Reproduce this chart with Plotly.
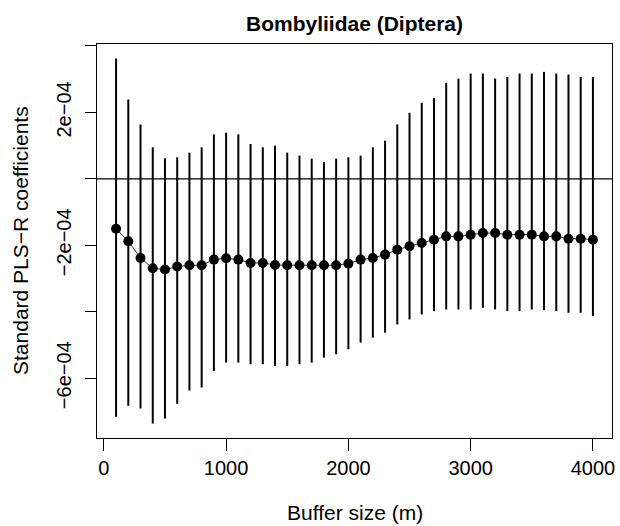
import plotly.graph_objects as go

buffer_m = [100, 200, 300, 400, 500, 600, 700, 800, 900, 1000,
            1100, 1200, 1300, 1400, 1500, 1600, 1700, 1800, 1900, 2000,
            2100, 2200, 2300, 2400, 2500, 2600, 2700, 2800, 2900, 3000,
            3100, 3200, 3300, 3400, 3500, 3600, 3700, 3800, 3900, 4000]

coef_e4 = [-1.50, -1.88, -2.38, -2.69, -2.73, -2.64, -2.60, -2.60, -2.43, -2.39,
           -2.43, -2.53, -2.53, -2.59, -2.60, -2.60, -2.60, -2.60, -2.60, -2.55,
           -2.43, -2.38, -2.28, -2.13, -2.03, -1.93, -1.83, -1.73, -1.73, -1.68,
           -1.63, -1.63, -1.68, -1.68, -1.68, -1.73, -1.73, -1.80, -1.80, -1.83]

upper_e4 = [3.62, 2.39, 1.64, 0.95, 0.62, 0.65, 0.79, 0.95, 1.34, 1.39,
            1.34, 1.05, 0.95, 1.00, 0.79, 0.70, 0.61, 0.51, 0.61, 0.65,
            0.70, 0.95, 1.15, 1.64, 1.99, 2.29, 2.44, 2.89, 3.02, 3.17,
            3.17, 3.02, 3.07, 3.17, 3.17, 3.22, 3.17, 3.14, 3.07, 3.07]

lower_e4 = [-7.16, -6.83, -6.91, -7.36, -7.21, -6.77, -6.37, -6.28, -5.78, -5.53,
            -5.53, -5.58, -5.58, -5.63, -5.63, -5.58, -5.53, -5.38, -5.28, -5.13,
            -4.93, -4.78, -4.63, -4.38, -4.23, -4.08, -3.98, -3.93, -3.93, -3.93,
            -3.88, -3.93, -3.98, -3.98, -3.93, -3.95, -3.98, -4.03, -4.03, -4.13]

x_tickvals = [0, 1000, 2000, 3000, 4000]
y_tickvals = [-6e-4, -4e-4, -2e-4, 0, 2e-4, 4e-4]
y_ticktext = ["\u22126e\u221204", "", "\u22122e\u221204", "", "2e\u221204", ""]

scale = 1e-4
coef = [v * scale for v in coef_e4]
err_plus = [(u - c) * scale for u, c in zip(upper_e4, coef_e4)]
err_minus = [(c - l) * scale for c, l in zip(coef_e4, lower_e4)]

FONT = "Liberation Sans, Arial, sans-serif"

fig = go.Figure()
fig.add_trace(go.Scatter(
    x=buffer_m, y=coef, mode="lines+markers",
    line=dict(color="#333333", width=1),
    marker=dict(color="black", size=10, line=dict(width=0)),
    error_y=dict(type="data", symmetric=False, array=err_plus, arrayminus=err_minus,
                 width=0, thickness=2, color="black"),
    showlegend=False,
))

fig.add_shape(type="line", xref="paper", yref="y", x0=0, x1=1, y0=0, y1=0,
              line=dict(color="black", width=1.3))

fig.update_layout(
    width=620, height=526,
    margin=dict(l=97, r=8, t=44, b=88, autoexpand=False),
    paper_bgcolor="white", plot_bgcolor="white",
    font=dict(family=FONT, size=20, color="black"),
    title=dict(text="<b>Bombyliidae (Diptera)</b>", x=(97 + 612) / 2 / 620, xanchor="center",
               y=1 - 24 / 526, yanchor="middle", font=dict(size=21, family=FONT)),
    xaxis=dict(range=[-56, 4156], tickvals=x_tickvals, ticktext=[str(v) for v in x_tickvals],
               showline=True, mirror=True, linecolor="black", linewidth=1,
               ticks="outside", ticklen=12, tickwidth=1, tickcolor="black",
               showgrid=False, zeroline=False, tickfont=dict(size=20), automargin=False),
    yaxis=dict(range=[-7.80e-4, 4.06e-4], tickvals=y_tickvals, ticktext=y_ticktext,
               tickangle=-90, automargin=False, ticklabelstandoff=6,
               showline=True, mirror=True, linecolor="black", linewidth=1,
               ticks="outside", ticklen=11, tickwidth=1, tickcolor="black",
               showgrid=False, zeroline=False, tickfont=dict(size=20)),
    annotations=[
        dict(text="Buffer size (m)", xref="paper", yref="paper", x=0.5, y=0,
             xanchor="center", yanchor="middle", yshift=-74, showarrow=False,
             font=dict(size=21, family=FONT)),
        dict(text="Standard PLS\u2212R coefficients", xref="paper", yref="paper", x=0, y=0.5,
             xanchor="center", yanchor="middle", xshift=-77, textangle=-90, showarrow=False,
             font=dict(size=21, family=FONT)),
    ],
)

fig.write_html("out.html", config={"displayModeBar": False},
               post_script="document.body.style.margin='0';document.body.style.overflow='hidden';")
